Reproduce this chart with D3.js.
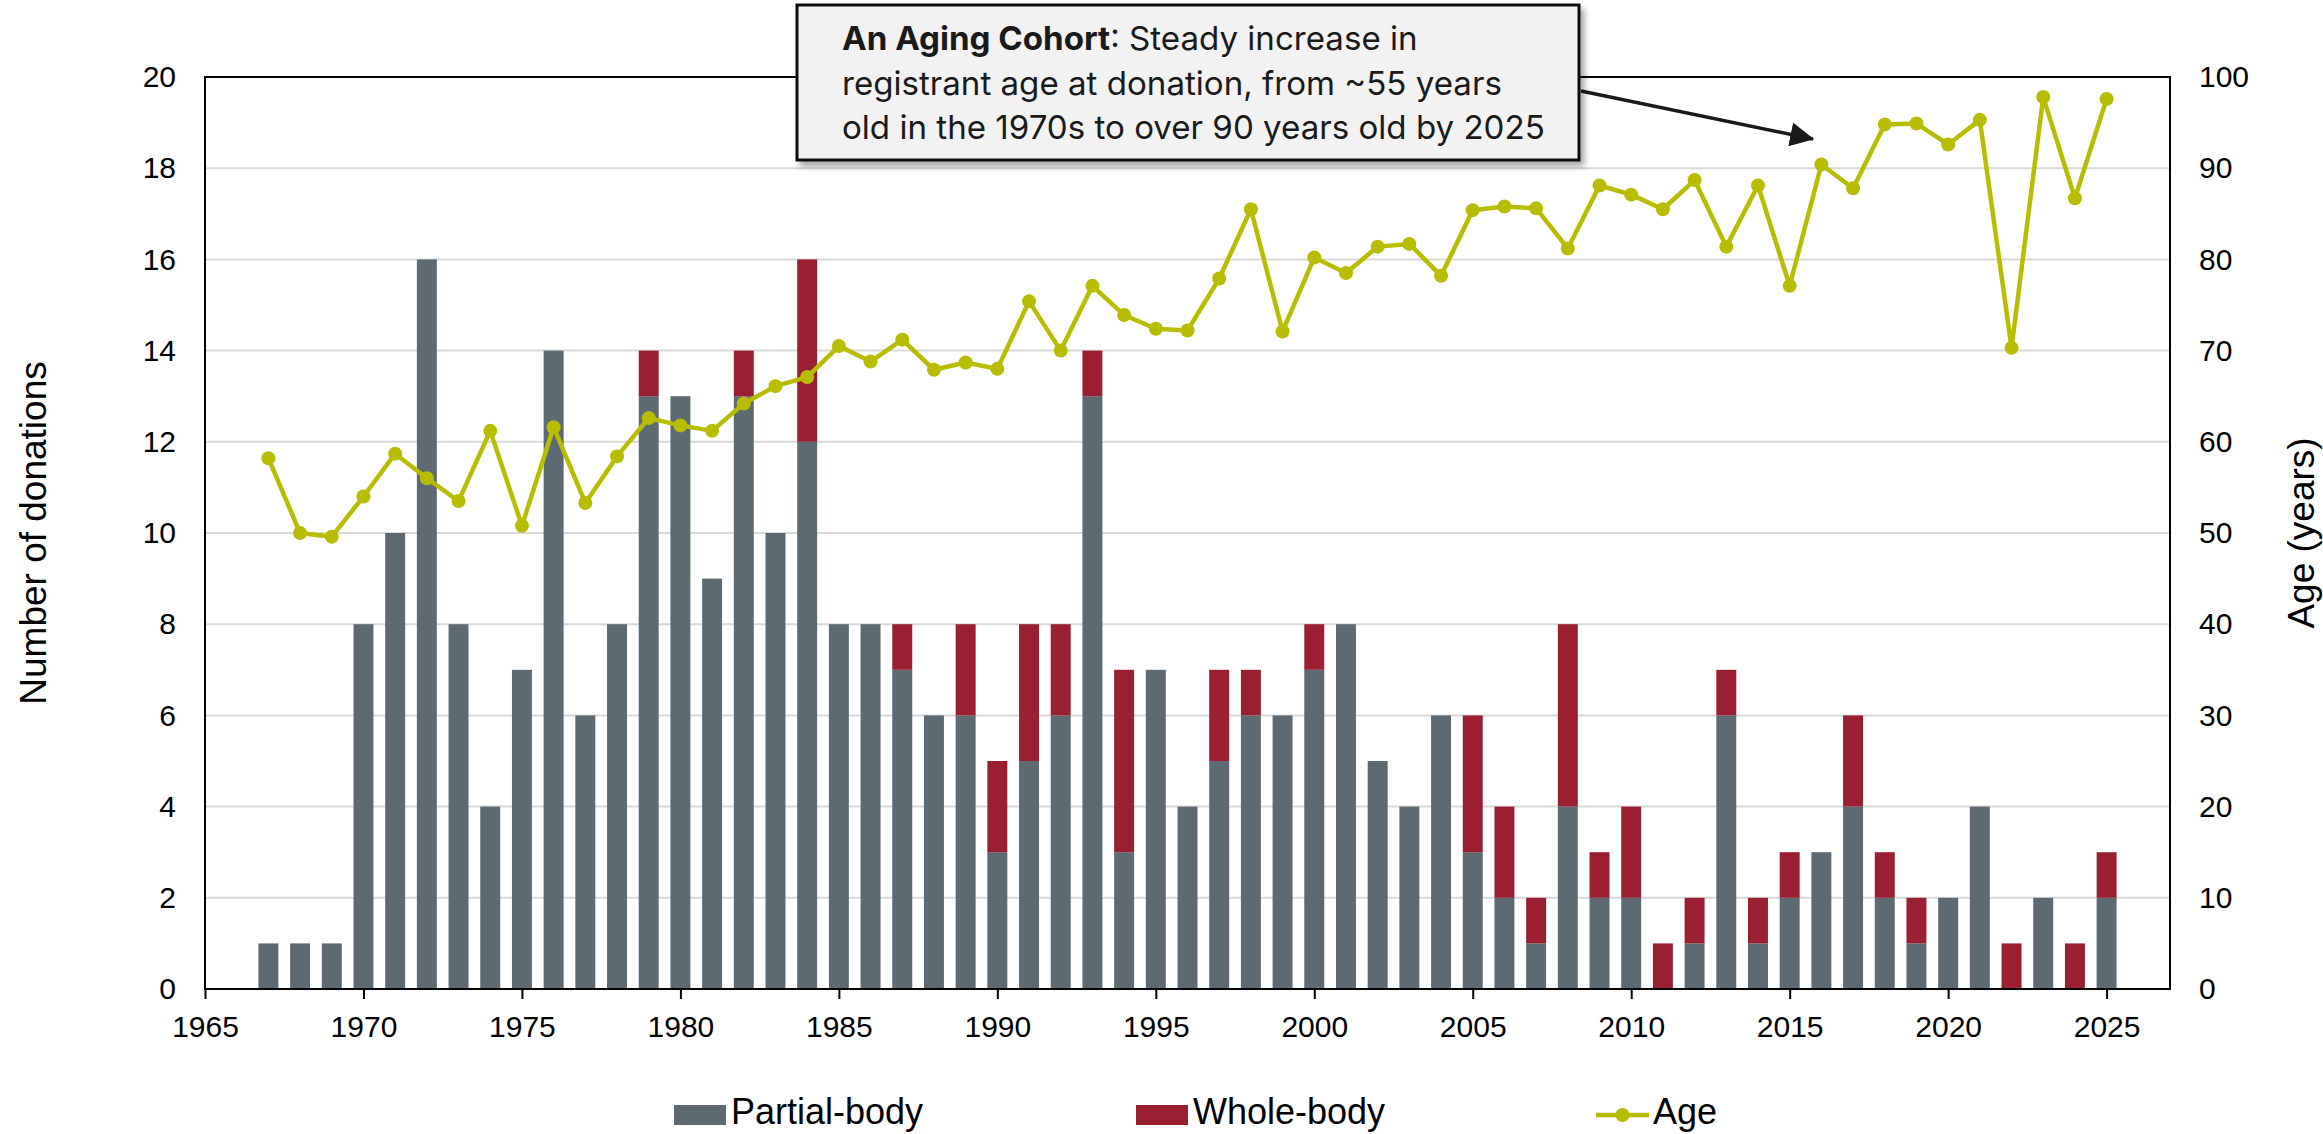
<!DOCTYPE html>
<html>
<head>
<meta charset="utf-8">
<script src="https://cdn.jsdelivr.net/npm/d3@7"></script>
<style>
  html, body { margin: 0; padding: 0; background: #fff; }
  svg { display: block; font-family: 'Liberation Sans', Arial, sans-serif; }
</style>
</head>
<body>
<div id="chart-container"></div>
<script>
// ---- data ----
const years = [
  1967, 1968, 1969, 1970, 1971, 1972, 1973, 1974, 1975, 1976,
  1977, 1978, 1979, 1980, 1981, 1982, 1983, 1984, 1985, 1986,
  1987, 1988, 1989, 1990, 1991, 1992, 1993, 1994, 1995, 1996,
  1997, 1998, 1999, 2000, 2001, 2002, 2003, 2004, 2005, 2006,
  2007, 2008, 2009, 2010, 2011, 2012, 2013, 2014, 2015, 2016,
  2017, 2018, 2019, 2020, 2021, 2022, 2023, 2024, 2025
]
const partialBody = [
  1, 1, 1, 8, 10, 16, 8, 4, 7, 14,
  6, 8, 13, 13, 9, 13, 10, 12, 8, 8,
  7, 6, 6, 3, 5, 6, 13, 3, 7, 4,
  5, 6, 6, 7, 8, 5, 4, 6, 3, 2,
  1, 4, 2, 2, 0, 1, 6, 1, 2, 3,
  4, 2, 1, 2, 4, 0, 2, 0, 2
]
const wholeBody = [
  0, 0, 0, 0, 0, 0, 0, 0, 0, 0,
  0, 0, 1, 0, 0, 1, 0, 4, 0, 0,
  1, 0, 2, 2, 3, 2, 1, 4, 0, 0,
  2, 1, 0, 1, 0, 0, 0, 0, 3, 2,
  1, 4, 1, 2, 1, 1, 1, 1, 1, 0,
  2, 1, 1, 0, 0, 1, 0, 1, 1
]
const ages = [
  58.2, 50.0, 49.6, 54.0, 58.7, 56.0, 53.5, 61.2, 50.8, 61.6,
  53.3, 58.4, 62.6, 61.8, 61.2, 64.2, 66.1, 67.1, 70.5, 68.8,
  71.2, 67.9, 68.7, 68.0, 75.4, 70.0, 77.1, 73.9, 72.4, 72.2,
  77.9, 85.5, 72.1, 80.2, 78.5, 81.4, 81.7, 78.2, 85.4, 85.8,
  85.6, 81.2, 88.1, 87.1, 85.5, 88.7, 81.4, 88.1, 77.1, 90.4,
  87.8, 94.8, 94.9, 92.6, 95.3, 70.3, 97.8, 86.7, 97.6
]
const xTicks = [1965, 1970, 1975, 1980, 1985, 1990, 1995, 2000, 2005, 2010, 2015, 2020, 2025]
const countTicks = [0, 2, 4, 6, 8, 10, 12, 14, 16, 18, 20]
const ageTicks = [0, 10, 20, 30, 40, 50, 60, 70, 80, 90, 100]
const seriesNames = ['Partial-body', 'Whole-body', 'Age']
const noteBold = 'An Aging Cohort'
const noteLines = [
  ': Steady increase in',
  'registrant age at donation, from ~55 years',
  'old in the 1970s to over 90 years old by 2025'
]
// -----------------------------------

const width = 2323
const height = 1134
const plot = { left: 205, right: 2170, top: 77, bottom: 989 }

const colors = {
  partial: '#5e6a72',
  whole: '#9a1f33',
  age: '#b7bd00',
  grid: '#d9d9d9'
}

const rows = years.map((year, i) => ({
  year,
  partial: partialBody[i],
  whole: wholeBody[i],
  age: ages[i]
}))

const x = d3.scaleLinear().domain([1965, 2027]).range([plot.left, plot.right])
const yCount = d3.scaleLinear().domain([0, 20]).range([plot.bottom, plot.top])
const yAge = d3.scaleLinear().domain([0, 100]).range([plot.bottom, plot.top])
const barWidth = (x(1966) - x(1965)) * 0.63

const svg = d3.select('#chart-container')
  .append('svg')
  .attr('width', width)
  .attr('height', height)

const defs = svg.append('defs')
defs.append('filter')
  .attr('id', 'shadow')
  .attr('x', '-5%').attr('y', '-10%')
  .attr('width', '115%').attr('height', '130%')
  .append('feDropShadow')
  .attr('dx', 4).attr('dy', 5)
  .attr('stdDeviation', 3)
  .attr('flood-color', '#000')
  .attr('flood-opacity', 0.35)

defs.append('marker')
  .attr('id', 'arrowhead')
  .attr('markerUnits', 'userSpaceOnUse')
  .attr('markerWidth', 24).attr('markerHeight', 24)
  .attr('viewBox', '0 -10 20 20')
  .attr('refX', 19).attr('refY', 0)
  .attr('orient', 'auto')
  .append('path')
  .attr('d', 'M0,-10L20,0L0,10Z')
  .attr('fill', '#1a1a1a')

// gridlines
svg.append('g')
  .selectAll('line')
  .data(countTicks.filter(d => d > 0 && d < 20))
  .enter()
  .append('line')
  .attr('x1', plot.left).attr('x2', plot.right)
  .attr('y1', d => yCount(d)).attr('y2', d => yCount(d))
  .attr('stroke', colors.grid)
  .attr('stroke-width', 2)

// stacked bars
const stack = d3.stack().keys(['partial', 'whole'])(rows)
svg.append('g')
  .selectAll('g')
  .data(stack)
  .enter()
  .append('g')
  .attr('fill', s => (s.key === 'partial' ? colors.partial : colors.whole))
  .selectAll('rect')
  .data(s => s)
  .enter()
  .append('rect')
  .attr('x', d => x(d.data.year) - barWidth / 2)
  .attr('width', barWidth)
  .attr('y', d => yCount(d[1]))
  .attr('height', d => yCount(d[0]) - yCount(d[1]))

// age line
const line = d3.line().x(d => x(d.year)).y(d => yAge(d.age))
svg.append('path')
  .datum(rows)
  .attr('d', line)
  .attr('fill', 'none')
  .attr('stroke', colors.age)
  .attr('stroke-width', 4.5)
  .attr('stroke-linejoin', 'round')

svg.append('g')
  .selectAll('circle')
  .data(rows)
  .enter()
  .append('circle')
  .attr('cx', d => x(d.year))
  .attr('cy', d => yAge(d.age))
  .attr('r', 7)
  .attr('fill', colors.age)

// axes
const xAxis = svg.append('g')
  .attr('transform', `translate(0,${plot.bottom})`)
  .call(d3.axisBottom(x).tickValues(xTicks).tickFormat(d3.format('d')).tickSize(10).tickPadding(17))
xAxis.select('.domain').remove()
xAxis.selectAll('line').attr('stroke', '#000').attr('stroke-width', 2)

const leftAxis = svg.append('g')
  .attr('transform', `translate(${plot.left},0)`)
  .call(d3.axisLeft(yCount).tickValues(countTicks).tickSize(0).tickPadding(29))
const rightAxis = svg.append('g')
  .attr('transform', `translate(${plot.right},0)`)
  .call(d3.axisRight(yAge).tickValues(ageTicks).tickSize(0).tickPadding(29))

for (const axis of [xAxis, leftAxis, rightAxis]) {
  axis.selectAll('text')
    .attr('fill', '#000')
    .style('font-size', '30px')
    .style('font-family', "'Liberation Sans', Arial, sans-serif")
}
leftAxis.select('.domain').remove()
rightAxis.select('.domain').remove()

// plot border
svg.append('rect')
  .attr('x', plot.left).attr('y', plot.top)
  .attr('width', plot.right - plot.left)
  .attr('height', plot.bottom - plot.top)
  .attr('fill', 'none')
  .attr('stroke', '#000')
  .attr('stroke-width', 2)

// axis titles
const midY = (plot.top + plot.bottom) / 2
svg.append('text')
  .attr('transform', `translate(33,${midY}) rotate(-90)`)
  .attr('text-anchor', 'middle')
  .attr('dominant-baseline', 'central')
  .style('font-size', '37px')
  .text('Number of donations')

svg.append('text')
  .attr('transform', `translate(2301,${midY}) rotate(-90)`)
  .attr('text-anchor', 'middle')
  .attr('dominant-baseline', 'central')
  .style('font-size', '37px')
  .text('Age (years)')

// legend
const legendY = 1115
const legend = svg.append('g').style('font-size', '36px')
const legendItems = [
  { name: seriesNames[0], kind: 'rect', color: colors.partial, x: 674 },
  { name: seriesNames[1], kind: 'rect', color: colors.whole, x: 1136 },
  { name: seriesNames[2], kind: 'line', color: colors.age, x: 1596 }
]
legendItems.forEach(item => {
  if (item.kind === 'rect') {
    legend.append('rect')
      .attr('x', item.x).attr('y', legendY - 10)
      .attr('width', 52).attr('height', 20)
      .attr('fill', item.color)
  } else {
    legend.append('line')
      .attr('x1', item.x).attr('x2', item.x + 53)
      .attr('y1', legendY).attr('y2', legendY)
      .attr('stroke', item.color).attr('stroke-width', 4.5)
    legend.append('circle')
      .attr('cx', item.x + 26.5).attr('cy', legendY)
      .attr('r', 7).attr('fill', item.color)
  }
  legend.append('text')
    .attr('x', item.x + 57)
    .attr('y', 1124)
    .text(item.name)
})

// annotation box + arrow
const box = { x: 797, y: 5, w: 782, h: 155 }
svg.append('line')
  .attr('x1', box.x + box.w + 2).attr('y1', 91)
  .attr('x2', 1813).attr('y2', 139)
  .attr('stroke', '#1a1a1a')
  .attr('stroke-width', 3.5)
  .attr('marker-end', 'url(#arrowhead)')

svg.append('rect')
  .attr('x', box.x).attr('y', box.y)
  .attr('width', box.w).attr('height', box.h)
  .attr('fill', '#f2f2f2')
  .attr('stroke', '#111')
  .attr('stroke-width', 3)
  .attr('filter', 'url(#shadow)')

const note = svg.append('g')
  .style('font-family', "Inter, 'Noto Sans', sans-serif")
  .attr('fill', '#1a1a1a')

const first = note.append('text').attr('x', 842).attr('y', 50)
first.append('tspan').attr('font-weight', 700).text(noteBold)
first.append('tspan').text(noteLines[0])
note.append('text').attr('x', 842).attr('y', 95).text(noteLines[1])
const last = note.append('text').attr('x', 842).attr('y', 139).text(noteLines[2])

// fit the note font to the width of its longest line
note.style('font-size', '34px')
const measured = last.node().getComputedTextLength()
note.style('font-size', `${(34 * 703) / measured}px`)
</script>
</body>
</html>
